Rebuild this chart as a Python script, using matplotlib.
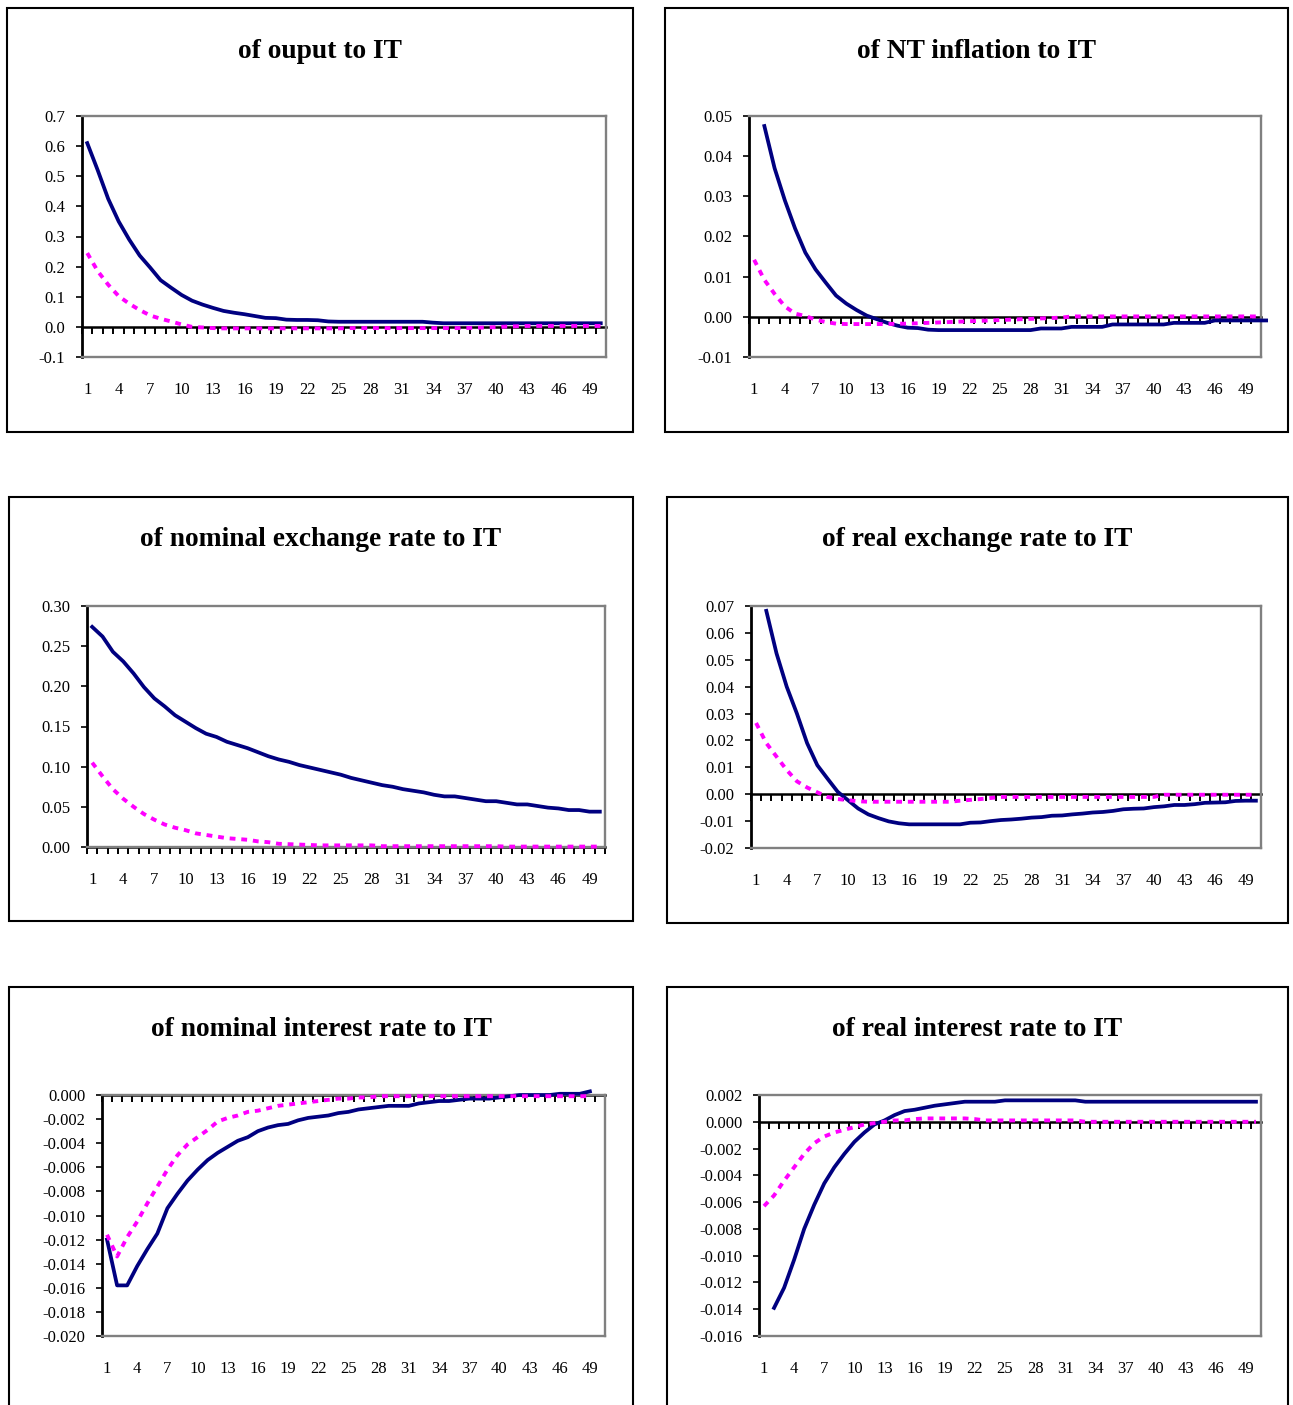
import numpy as np
import matplotlib
matplotlib.use('Agg')
import matplotlib.pyplot as plt
from matplotlib.patches import Rectangle
from matplotlib.ticker import MultipleLocator, FormatStrFormatter

plt.rcParams['font.family'] = ['Liberation Serif', 'DejaVu Serif']

# ---------------- data ----------------
x_tick_pos = list(range(1, 51, 3))
x_tick_labels = [str(v) for v in x_tick_pos]

titles = ["of ouput to IT", "of NT inflation to IT",
          "of nominal exchange rate to IT", "of real exchange rate to IT",
          "of nominal interest rate to IT", "of real interest rate to IT"]

# output
out_solid_start = 1
out_solid = [0.61, 0.52, 0.425, 0.35, 0.29, 0.237, 0.197, 0.155, 0.13, 0.106,
             0.087, 0.074, 0.063, 0.053, 0.047, 0.042, 0.036, 0.030, 0.029, 0.024,
             0.023, 0.023, 0.022, 0.018, 0.017, 0.017, 0.017, 0.017, 0.017, 0.017,
             0.017, 0.017, 0.017, 0.014, 0.012, 0.012, 0.012, 0.012, 0.012, 0.012,
             0.012, 0.012, 0.012, 0.012, 0.012, 0.012, 0.012, 0.012, 0.012, 0.012]
out_dash = [0.245, 0.185, 0.14, 0.102, 0.077, 0.056, 0.038, 0.027, 0.018, 0.008,
            0.0, -0.002, -0.004, -0.005, -0.005, -0.005, -0.005, -0.005, -0.005, -0.005,
            -0.005, -0.005, -0.005, -0.005, -0.005, -0.004, -0.004, -0.004, -0.004, -0.004,
            -0.004, -0.004, -0.004, -0.004, -0.004, -0.004, -0.004, -0.003, -0.002, -0.001,
            0.001, 0.002, 0.003, 0.003, 0.003, 0.003, 0.003, 0.003, 0.003, 0.003]

# NT inflation (solid starts at period 2)
nt_solid_start = 2
nt_solid = [0.0475, 0.037, 0.029, 0.022, 0.016, 0.0118, 0.0085, 0.0053, 0.0033, 0.0017,
            0.0003, -0.0006, -0.0015, -0.0022, -0.0027, -0.0028, -0.0032,
            -0.0033, -0.0033, -0.0033, -0.0033, -0.0033, -0.0033, -0.0033, -0.0033, -0.0033, -0.0033,
            -0.0029, -0.0029, -0.0029,
            -0.0025, -0.0025, -0.0025, -0.0025,
            -0.0019, -0.0019, -0.0019, -0.0019, -0.0019, -0.0019,
            -0.0015, -0.0015, -0.0015, -0.0015,
            -0.0009, -0.0009, -0.0009, -0.0009, -0.0009, -0.0009]
nt_dash = [0.0142, 0.0092, 0.0057, 0.0026, 0.0008, 0.0002, -0.0007, -0.0013, -0.0017, -0.0018,
           -0.0018, -0.0018, -0.0018, -0.0018, -0.0017, -0.0017, -0.0016, -0.0015, -0.0014, -0.0013,
           -0.0012, -0.0011, -0.0010, -0.0009, -0.0008, -0.0007, -0.0006, -0.0005, -0.0004, -0.0003,
           -0.0002, 0.0001, 0.0001, 0.0001, 0.0001, 0.0001, 0.0001, 0.0001, 0.0001, 0.0001,
           0.0001, 0.0001, 0.0001, 0.0001, 0.0001, 0.0001, 0.0001, 0.0001, 0.0001, 0.0001]

# nominal exchange rate
ner_solid_start = 1
ner_solid = [0.274, 0.262, 0.243, 0.231, 0.216, 0.199, 0.185, 0.175, 0.164, 0.156,
             0.148, 0.141, 0.137, 0.131, 0.127, 0.123, 0.118, 0.113, 0.109, 0.106,
             0.102, 0.099, 0.096, 0.093, 0.090, 0.086, 0.083, 0.080, 0.077, 0.075,
             0.072, 0.070, 0.068, 0.065, 0.063, 0.063, 0.061, 0.059, 0.057, 0.057,
             0.055, 0.053, 0.053, 0.051, 0.049, 0.048, 0.046, 0.046, 0.044, 0.044]
ner_dash = [0.105, 0.088, 0.072, 0.060, 0.050, 0.041, 0.034, 0.028, 0.024, 0.021,
            0.017, 0.015, 0.013, 0.011, 0.010, 0.009, 0.007, 0.006, 0.004, 0.0035,
            0.003, 0.0025, 0.002, 0.002, 0.002, 0.002, 0.002, 0.002, 0.001, 0.001,
            0.001, 0.001, 0.001, 0.001, 0.001, 0.001, 0.001, 0.001, 0.001, 0.001,
            0.0005, 0.0005, 0.0005, 0.0005, 0.0005, 0.0005, 0.0005, 0.0005, 0.0005, 0.0005]

# real exchange rate (solid starts at period 2)
rer_solid_start = 2
rer_solid = [0.0682, 0.0524, 0.040, 0.030, 0.019, 0.0108, 0.0058, 0.0009, -0.0022, -0.0053,
             -0.0075, -0.0089, -0.0101, -0.0108, -0.0112, -0.0112, -0.0112, -0.0112, -0.0112, -0.0112,
             -0.0106, -0.0105, -0.0100, -0.0096, -0.0094, -0.0091, -0.0087, -0.0085, -0.0080, -0.0079,
             -0.0075, -0.0072, -0.0068, -0.0066, -0.0062, -0.0056, -0.0054, -0.0053, -0.0048, -0.0045,
             -0.0040, -0.0040, -0.0037, -0.0032, -0.0031, -0.0030, -0.0025, -0.0024, -0.0024]
rer_dash = [0.0265, 0.019, 0.014, 0.009, 0.0048, 0.0025, 0.0007, -0.0010, -0.0018, -0.0022,
            -0.0026, -0.0028, -0.0028, -0.0028, -0.0028, -0.0028, -0.0028, -0.0028, -0.0028, -0.0028,
            -0.0024, -0.0021, -0.0018, -0.0014, -0.0010, -0.0010, -0.0010, -0.0010, -0.0010, -0.0010,
            -0.0010, -0.0010, -0.0010, -0.0010, -0.0010, -0.0010, -0.0010, -0.0010, -0.0010, -0.0010,
            -0.0002, -0.0002, -0.0002, -0.0002, -0.0002, -0.0002, -0.0002, -0.0002, -0.0002, -0.0002]

# nominal interest rate
nir_solid_start = 1
nir_solid = [-0.0120, -0.0158, -0.0158, -0.0142, -0.0128, -0.0115, -0.0094, -0.0082, -0.0071, -0.0062,
             -0.0054, -0.0048, -0.0043, -0.0038, -0.0035, -0.0030, -0.0027, -0.0025, -0.0024, -0.0021,
             -0.0019, -0.0018, -0.0017, -0.0015, -0.0014, -0.0012, -0.0011, -0.0010, -0.0009, -0.0009,
             -0.0009, -0.0007, -0.0006, -0.0005, -0.0005, -0.0004, -0.0003, -0.0003, -0.0003, -0.0002,
             -0.0001, 0.0000, 0.0000, 0.0000, 0.0000, 0.0001, 0.0001, 0.0001, 0.0003]
nir_dash = [-0.0116, -0.0134, -0.0118, -0.0105, -0.0090, -0.0076, -0.0062, -0.0050, -0.0041, -0.0035,
            -0.0029, -0.0022, -0.0019, -0.0017, -0.0014, -0.0013, -0.0011, -0.0009, -0.0008, -0.0007,
            -0.0006, -0.0005, -0.0004, -0.0003, -0.0003, -0.0002, -0.0002, -0.0001, -0.0001, -0.0001,
            -0.0001, -0.0001, -0.0001, -0.0001, -0.0001, -0.0001, -0.0001, -0.0001, -0.0001, -0.0001,
            -0.0001, -0.0001, -0.0001, -0.0001, -0.0001, -0.0001, -0.0001, -0.0001, -0.0001]

# real interest rate (solid starts at period 2)
rir_solid_start = 2
rir_solid = [-0.0139, -0.0124, -0.0103, -0.0080, -0.0062, -0.0046, -0.0034, -0.0024, -0.0015, -0.0008,
             -0.0002, 0.0001, 0.0005, 0.0008, 0.0009, 0.00105, 0.0012, 0.0013, 0.0014, 0.0015,
             0.0015, 0.0015, 0.0015,
             0.0016, 0.0016, 0.0016, 0.0016, 0.0016, 0.0016, 0.0016, 0.0016,
             0.0015, 0.0015, 0.0015, 0.0015, 0.0015, 0.0015, 0.0015, 0.0015, 0.0015,
             0.0015, 0.0015, 0.0015, 0.0015, 0.0015, 0.0015, 0.0015, 0.0015, 0.0015]
rir_dash = [-0.0063, -0.0055, -0.0044, -0.0034, -0.0024, -0.0016, -0.0011, -0.0008, -0.0006, -0.0004,
            -0.0002, -0.0001, 0.0, 0.0001, 0.0001, 0.0002, 0.00025, 0.00025, 0.00025, 0.00025,
            0.00025, 0.0002, 0.0001, 0.0001, 0.0001, 0.0001, 0.0001, 0.0001, 0.0001, 0.0001,
            0.0001, 0.0001, 0.0, 0.0, 0.0, 0.0, 0.0, 0.0, 0.0, 0.0,
            0.0, 0.0, 0.0, 0.0, 0.0, 0.0, 0.0, 0.0, 0.0, 0.0]

# ---------------- layout ----------------
W, H = 1293, 1405
fig = plt.figure(figsize=(W / 100, H / 100), dpi=100)


def fig_rect(l, t, r, b):
    return [l / W, 1 - b / H, (r - l) / W, (b - t) / H]


panels = [
    dict(title=titles[0], ax=(82, 116, 606, 357), box=(7, 8, 633, 432), ty=51,
         ylim=(-0.1, 0.7), step=0.1, fmt='%.1f',
         solid=out_solid, s0=out_solid_start, dash=out_dash),
    dict(title=titles[1], ax=(749, 116, 1261, 357), box=(665, 8, 1288, 432), ty=51,
         ylim=(-0.01, 0.05), step=0.01, fmt='%.2f',
         solid=nt_solid, s0=nt_solid_start, dash=nt_dash),
    dict(title=titles[2], ax=(87, 606, 605, 847), box=(9, 497, 633, 921), ty=540,
         ylim=(0.0, 0.30), step=0.05, fmt='%.2f',
         solid=ner_solid, s0=ner_solid_start, dash=ner_dash),
    dict(title=titles[3], ax=(751, 606, 1261, 848), box=(667, 497, 1288, 923), ty=540,
         ylim=(-0.02, 0.07), step=0.01, fmt='%.2f',
         solid=rer_solid, s0=rer_solid_start, dash=rer_dash),
    dict(title=titles[4], ax=(102, 1095, 605, 1336), box=(9, 987, 633, 1440), ty=1030,
         ylim=(-0.020, 0.000), step=0.002, fmt='%.3f',
         solid=nir_solid, s0=nir_solid_start, dash=nir_dash),
    dict(title=titles[5], ax=(759, 1095, 1261, 1336), box=(667, 987, 1288, 1440), ty=1030,
         ylim=(-0.016, 0.002), step=0.002, fmt='%.3f',
         solid=rir_solid, s0=rir_solid_start, dash=rir_dash),
]

GRAY = '#808080'
NAVY = '#000080'
MAGENTA = '#FF00FF'

for p in panels:
    # outer box
    bl, bt, br, bb = p['box']
    fig.add_artist(Rectangle((bl / W, 1 - bb / H), (br - bl) / W, (bb - bt) / H,
                             transform=fig.transFigure, fill=False,
                             lw=1.5, ec='black', clip_on=False))
    # title
    fig.text((bl + br) / 2 / W, 1 - p['ty'] / H, p['title'], ha='center', va='center',
             fontsize=19.8, fontweight='bold')

    ax = fig.add_axes(fig_rect(*p['ax']))
    y0, y1 = p['ylim']
    ax.set_xlim(0.5, 50.5)
    ax.set_ylim(y0, y1)

    xs = np.arange(p['s0'], p['s0'] + len(p['solid']))
    xd = np.arange(1, 1 + len(p['dash']))
    ax.plot(xs, p['solid'], color=NAVY, lw=2.7, clip_on=False, zorder=3)
    ax.plot(xd, p['dash'], color=MAGENTA, lw=2.8, linestyle=(0, (1.5, 1.5)),
            clip_on=False, zorder=4)

    # spines
    for s in ['top', 'right', 'bottom']:
        ax.spines[s].set_color(GRAY)
        ax.spines[s].set_linewidth(1.7)
    ax.spines['left'].set_color('black')
    ax.spines['left'].set_linewidth(2.0)

    # y axis
    ax.yaxis.set_major_locator(MultipleLocator(p['step']))
    ax.yaxis.set_major_formatter(FormatStrFormatter(p['fmt']))
    ax.tick_params(axis='y', direction='out', length=4, width=1.2, color='black',
                   labelsize=12, pad=8)

    # x labels (below plot area)
    ax.set_xticks(x_tick_pos)
    ax.set_xticklabels(x_tick_labels)
    ax.tick_params(axis='x', length=0, labelsize=12, pad=18)

    # category axis crossing at zero
    loc = (0 - y0) / (y1 - y0)
    sec = ax.secondary_xaxis(loc)
    sec.set_xticks(np.arange(0.5, 51, 1))
    sec.tick_params(axis='x', length=5, width=1.4, color='black',
                    direction='out' if loc < 0.5 else 'in',
                    labelbottom=False, labeltop=False)
    for s in sec.spines.values():
        s.set_color('black')
        s.set_linewidth(1.8)

fig.savefig('out.png', dpi=100)
